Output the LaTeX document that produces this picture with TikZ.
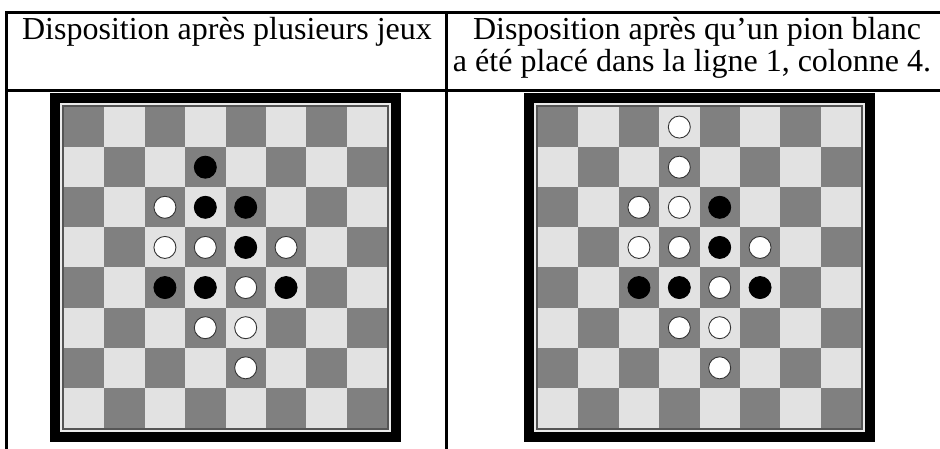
\documentclass[tikz,border=0pt]{standalone}
\usepackage{fontspec}
\setmainfont{Liberation Serif}
\definecolor{sqdark}{RGB}{128,128,128}
\definecolor{sqlight}{RGB}{226,226,226}
\definecolor{rimdark}{RGB}{85,85,85}
\definecolor{rimlight}{RGB}{235,235,235}
\newcommand{\myboard}[3]{%
  \begin{scope}[shift={(#1,#2)}]
    \fill[black] (0,0) rectangle (351,349);
    \fill[rimlight] (10,10) rectangle (341,339);
    \fill[rimdark] (12,12) rectangle (339,337);
    \foreach \r in {1,...,8}{%
      \foreach \c in {1,...,8}{%
        \pgfmathtruncatemacro\sqpar{mod(\r+\c,2)}%
        \ifnum\sqpar=0 \def\sqc{sqdark}\else\def\sqc{sqlight}\fi
        \fill[\sqc] ({14+(\c-1)*40.375},{14+(\r-1)*40.125}) rectangle ++(40.375,40.125);
      }%
    }%
    \foreach \r/\c/\s in {#3}{%
      \node[\s] (#1-\r-\c) at ({14+(\c-0.5)*40.375},{14+(\r-0.5)*40.125}) {};
    }%
  \end{scope}%
}
\begin{document}
\begin{tikzpicture}[x=1pt,y=-1pt,
  rule/.style={line width=2.6pt},
  hdr/.style={font=\fontsize{32}{38}\selectfont, inner sep=0pt, anchor=base},
  wpiece/.style={circle, fill=white, draw=black!80, line width=0.9pt, minimum size=22pt, inner sep=0pt},
  bpiece/.style={circle, fill=black, draw=black, line width=0.9pt, minimum size=22pt, inner sep=0pt}]
\useasboundingbox (0,0) rectangle (940,449);
% table rules
\draw[rule] (5,12.5) -- (940,12.5);
\draw[rule] (5,90.5) -- (940,90.5);
\draw[rule] (6.5,11.2) -- (6.5,449);
\draw[rule] (446.5,11.2) -- (446.5,449);
% headers
\node[hdr] (h1) at (227,39.5) {Disposition après plusieurs jeux};
\node[hdr] (h2a) at (697,39.5) {Disposition après qu’un pion blanc};
\node[hdr] (h2b) at (692,71.5) {a été placé dans la ligne 1, colonne 4.};
% boards
\myboard{50}{93}{2/4/bpiece, 3/3/wpiece, 3/4/bpiece, 3/5/bpiece, 4/3/wpiece, 4/4/wpiece, 4/5/bpiece, 4/6/wpiece, 5/3/bpiece, 5/4/bpiece, 5/5/wpiece, 5/6/bpiece, 6/4/wpiece, 6/5/wpiece, 7/5/wpiece}
\myboard{524}{93}{1/4/wpiece, 2/4/wpiece, 3/3/wpiece, 3/4/wpiece, 3/5/bpiece, 4/3/wpiece, 4/4/wpiece, 4/5/bpiece, 4/6/wpiece, 5/3/bpiece, 5/4/bpiece, 5/5/wpiece, 5/6/bpiece, 6/4/wpiece, 6/5/wpiece, 7/5/wpiece}
\end{tikzpicture}
\end{document}
